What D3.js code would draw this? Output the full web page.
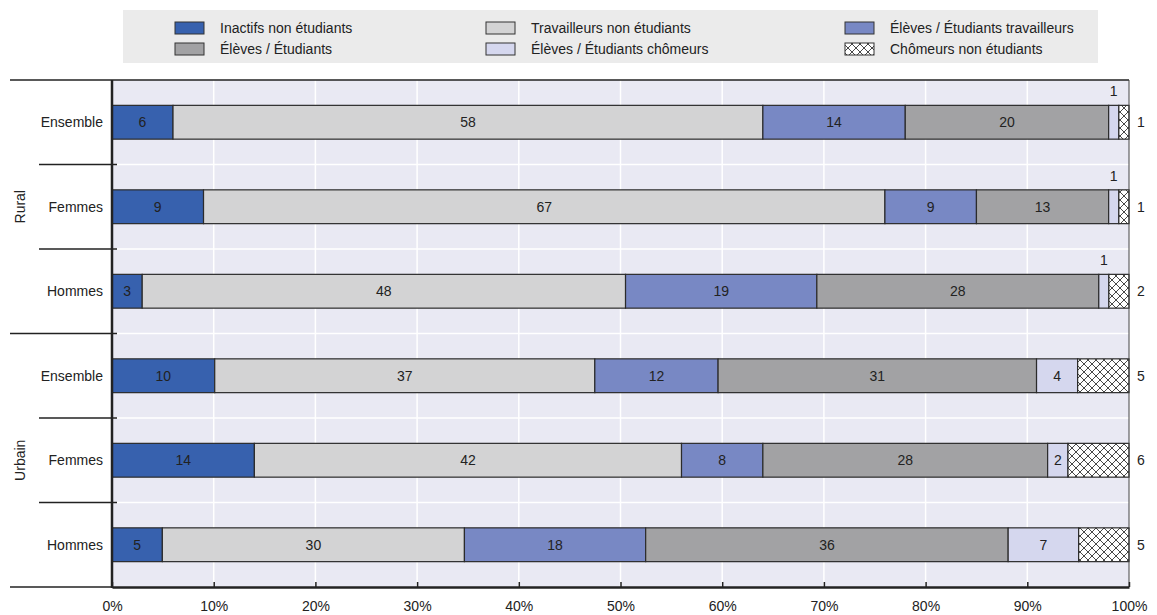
<!DOCTYPE html>
<html>
<head>
<meta charset="utf-8">
<script src="https://cdn.jsdelivr.net/npm/d3@7"></script>
<style>
  html, body { margin: 0; padding: 0; background: #ffffff; }
  svg { display: block; font-family: "Liberation Sans", Arial, sans-serif; }
</style>
</head>
<body>
<svg id="chart" width="1157" height="615"></svg>
<script>
// Series, in stacking order
const seriesNames = [
  "Inactifs non étudiants",
  "Travailleurs non étudiants",
  "Élèves / Étudiants travailleurs",
  "Élèves / Étudiants",
  "Élèves / Étudiants chômeurs",
  "Chômeurs non étudiants"
];
const seriesColors = ["#3761ae", "#d3d3d4", "#7888c4", "#a2a2a4", "#d5d7ee", "url(#hatch)"];

// Rows: group / category
const groups = ["Rural", "Rural", "Rural", "Urbain", "Urbain", "Urbain"];
const categories = ["Ensemble", "Femmes", "Hommes", "Ensemble", "Femmes", "Hommes"];

// Shares (%) per series, one value per row
const inactifs      = [6, 9, 3, 10, 14, 5];
const travailleurs  = [58, 67, 48, 37, 42, 30];
const etudTrav      = [14, 9, 19, 12, 8, 18];
const etudiants     = [20, 13, 28, 31, 28, 36];
const etudChomeurs  = [1, 1, 1, 4, 2, 7];
const chomeurs      = [1, 1, 2, 5, 6, 5];

const xTicks = [0, 0.1, 0.2, 0.3, 0.4, 0.5, 0.6, 0.7, 0.8, 0.9, 1];

const seriesValues = [inactifs, travailleurs, etudTrav, etudiants, etudChomeurs, chomeurs];
const rows = categories.map((c, i) => {
  const r = { id: i, group: groups[i], category: c };
  seriesNames.forEach((s, k) => { r[s] = seriesValues[k][i]; });
  return r;
});

const svg = d3.select("#chart");
const plotL = 112, plotR = 1129, plotT = 80, plotB = 587;

const x = d3.scaleLinear().domain([0, 1]).range([plotL, plotR]);
const y = d3.scaleBand().domain(rows.map(r => r.id)).range([plotT, plotB])
  .paddingInner(0.6).paddingOuter(0.3);
const step = y.step();

// Hatch pattern for the unemployed non-students
const defs = svg.append("defs");
const pat = defs.append("pattern").attr("id", "hatch")
  .attr("patternUnits", "userSpaceOnUse").attr("width", 8).attr("height", 8);
pat.append("rect").attr("width", 8).attr("height", 8).attr("fill", "#ffffff");
pat.append("path").attr("d", "M0,0 L8,8 M8,0 L0,8")
  .attr("stroke", "#333").attr("stroke-width", 0.9);

// Legend
const legend = svg.append("g");
legend.append("rect").attr("x", 123).attr("y", 10).attr("width", 975).attr("height", 53).attr("fill", "#ebebeb");
const legendPos = [
  [175, 28], [486, 28], [845, 28],
  [175, 49], [486, 49], [845, 49]
];
const legendOrder = [0, 1, 2, 3, 4, 5];
legendOrder.forEach((k, i) => {
  const [lx, ly] = legendPos[i];
  legend.append("rect").attr("x", lx).attr("y", ly - 6).attr("width", 29).attr("height", 12)
    .attr("fill", seriesColors[k]).attr("stroke", "#333").attr("stroke-width", 1);
  legend.append("text").attr("x", lx + 45).attr("y", ly).attr("dy", "0.35em")
    .attr("font-size", 14).attr("fill", "#222").text(seriesNames[k]);
});

// Plot background
svg.append("rect").attr("x", plotL).attr("y", plotT).attr("width", plotR - plotL).attr("height", plotB - plotT)
  .attr("fill", "#e9e9f3");

// Vertical gridlines
svg.append("g").selectAll("line").data(xTicks.slice(1, -1)).join("line")
  .attr("x1", d => x(d)).attr("x2", d => x(d)).attr("y1", plotT).attr("y2", plotB)
  .attr("stroke", "#ffffff").attr("stroke-width", 1.5);

// Horizontal separators between rows inside the plot
const boundaries = d3.range(1, rows.length).map(i => plotT + i * step);
svg.append("g").selectAll("line").data(boundaries).join("line")
  .attr("x1", plotL).attr("x2", plotR).attr("y1", d => d).attr("y2", d => d)
  .attr("stroke", "#ffffff").attr("stroke-width", 1.5);

// Stacked bars (each row normalised to 100%)
const stack = d3.stack().keys(seriesNames).offset(d3.stackOffsetExpand);
const stacked = stack(rows);

const layers = svg.append("g").selectAll("g").data(stacked).join("g")
  .attr("fill", (d, k) => seriesColors[k]);
layers.selectAll("rect").data(d => d.map(p => ({ p, row: p.data }))).join("rect")
  .attr("x", d => x(d.p[0]))
  .attr("y", d => y(d.row.id))
  .attr("width", d => x(d.p[1]) - x(d.p[0]))
  .attr("height", y.bandwidth())
  .attr("stroke", "#2b2b2b").attr("stroke-width", 1.2);

// Value labels
const labels = svg.append("g").attr("font-size", 14).attr("fill", "#222");
stacked.forEach((layer, k) => {
  layer.forEach(p => {
    const v = p.data[seriesNames[k]];
    const cy = y(p.data.id) + y.bandwidth() / 2;
    const w = x(p[1]) - x(p[0]);
    if (k === seriesNames.length - 1) {
      labels.append("text").attr("x", plotR + 12).attr("y", cy).attr("dy", "0.35em")
        .attr("text-anchor", "middle").text(v);
    } else if (w < 12) {
      labels.append("text").attr("x", (x(p[0]) + x(p[1])) / 2).attr("y", y(p.data.id) - 14).attr("dy", "0.35em")
        .attr("text-anchor", "middle").text(v);
    } else {
      labels.append("text").attr("x", (x(p[0]) + x(p[1])) / 2).attr("y", cy).attr("dy", "0.35em")
        .attr("text-anchor", "middle").text(v);
    }
  });
});

// Category labels
svg.append("g").selectAll("text").data(rows).join("text")
  .attr("x", 103).attr("y", d => y(d.id) + y.bandwidth() / 2).attr("dy", "0.35em")
  .attr("text-anchor", "end").attr("font-size", 14).attr("fill", "#222")
  .text(d => d.category);

// Group labels
const groupNames = Array.from(new Set(groups));
groupNames.forEach(g => {
  const ids = rows.filter(r => r.group === g).map(r => r.id);
  const y0 = plotT + ids[0] * step;
  const y1 = plotT + (ids[ids.length - 1] + 1) * step;
  svg.append("text").attr("transform", `translate(20,${(y0 + y1) / 2}) rotate(-90)`)
    .attr("dy", "0.35em").attr("text-anchor", "middle").attr("font-size", 14).attr("fill", "#222").text(g);
});

// Row separators on the left
const sepG = svg.append("g").attr("stroke", "#222").attr("stroke-width", 1.3);
boundaries.forEach((b, i) => {
  const groupBreak = groups[i] !== groups[i + 1];
  sepG.append("line").attr("x1", groupBreak ? 10 : 39).attr("x2", plotL + 5).attr("y1", b).attr("y2", b);
});
// Top and right frame
sepG.append("line").attr("x1", 10).attr("x2", plotR).attr("y1", plotT).attr("y2", plotT);
svg.append("line").attr("x1", plotR).attr("x2", plotR).attr("y1", plotT).attr("y2", plotB)
  .attr("stroke", "#444").attr("stroke-width", 1);
// Bottom line across the label column
svg.append("line").attr("x1", 10).attr("x2", plotL).attr("y1", plotB).attr("y2", plotB)
  .attr("stroke", "#222").attr("stroke-width", 1.3);

// Bottom axis with inward ticks
const xAxis = d3.axisBottom(x).tickValues(xTicks).tickFormat(d3.format(".0%"))
  .tickSizeInner(-5).tickSizeOuter(0).tickPadding(14);
const ax = svg.append("g").attr("transform", `translate(0,${plotB})`).call(xAxis);
ax.select(".domain").attr("stroke", "#222").attr("stroke-width", 2.5);
ax.selectAll(".tick line").attr("stroke", "#222").attr("stroke-width", 1.5);
ax.selectAll(".tick text").attr("font-size", 14).attr("fill", "#222")
  .attr("font-family", "'Liberation Sans', Arial, sans-serif");

// Left axis line
svg.append("line").attr("x1", plotL).attr("x2", plotL).attr("y1", plotT).attr("y2", plotB + 1)
  .attr("stroke", "#222").attr("stroke-width", 2.5);
</script>
</body>
</html>
